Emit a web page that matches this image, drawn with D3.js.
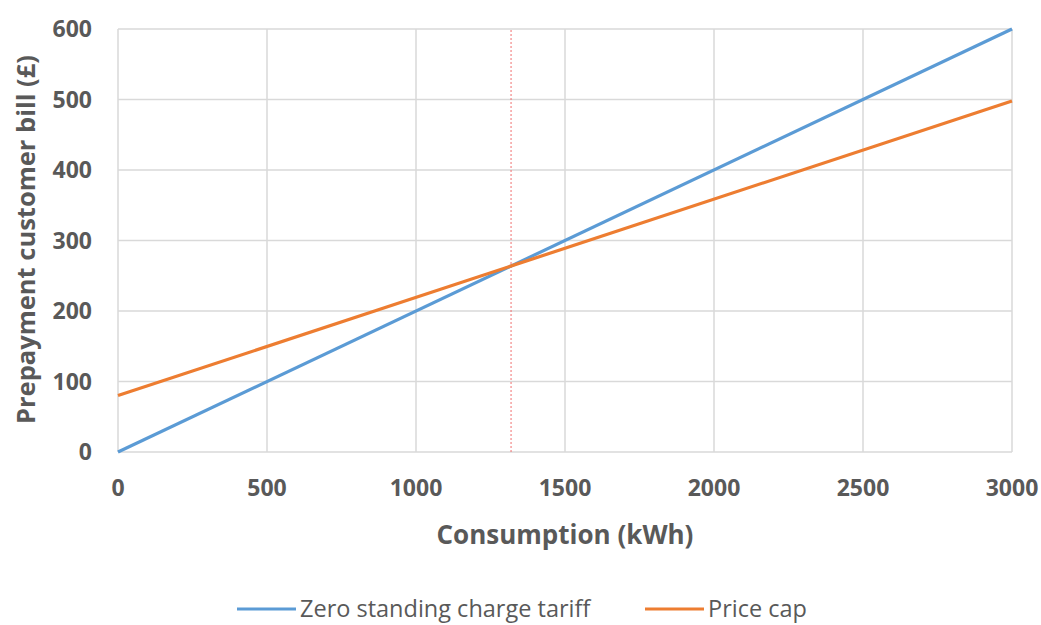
<!DOCTYPE html>
<html>
<head>
<meta charset="utf-8">
<script src="https://cdn.jsdelivr.net/npm/d3@7"></script>
<style>
  body { margin: 0; background: #fff; }
  text { font-family: "Open Sans", Lato, sans-serif; fill: #595959; }
</style>
</head>
<body>
<div id="chart"></div>
<script>
const consumption = [0, 3000];
const zeroStanding = [0, 600];
const priceCap = [80, 498];
const crossover = 1319;
const xTicks = [0, 500, 1000, 1500, 2000, 2500, 3000];
const yTicks = [0, 100, 200, 300, 400, 500, 600];

const width = 1041;
const height = 625;
const margin = { top: 29, right: 29, bottom: 173, left: 118 };

const svg = d3
  .select("#chart")
  .append("svg")
  .attr("width", width)
  .attr("height", height);

const x = d3.scaleLinear().domain([0, 3000]).range([margin.left, width - margin.right]);
const y = d3.scaleLinear().domain([0, 600]).range([height - margin.bottom, margin.top]);

// gridlines
svg.append("g")
  .selectAll("line")
  .data(yTicks)
  .join("line")
  .attr("x1", x(0)).attr("x2", x(3000))
  .attr("y1", (d) => y(d)).attr("y2", (d) => y(d))
  .attr("stroke", "#d9d9d9").attr("stroke-width", 1.5);

svg.append("g")
  .selectAll("line")
  .data(xTicks)
  .join("line")
  .attr("x1", (d) => x(d)).attr("x2", (d) => x(d))
  .attr("y1", y(0)).attr("y2", y(600))
  .attr("stroke", "#d9d9d9").attr("stroke-width", 1.5);

// tick labels
svg.append("g")
  .selectAll("text")
  .data(yTicks)
  .join("text")
  .attr("x", 92)
  .attr("y", (d) => y(d))
  .attr("dy", "0.36em")
  .attr("text-anchor", "end")
  .attr("font-size", 23)
  .attr("font-weight", "bold")
  .text((d) => d);

svg.append("g")
  .selectAll("text")
  .data(xTicks)
  .join("text")
  .attr("x", (d) => x(d))
  .attr("y", 488)
  .attr("dy", "0.36em")
  .attr("text-anchor", "middle")
  .attr("font-size", 23)
  .attr("font-weight", "bold")
  .text((d) => d);

// crossover marker
svg.append("line")
  .attr("x1", x(crossover)).attr("x2", x(crossover))
  .attr("y1", y(0)).attr("y2", y(600))
  .attr("stroke", "#f07070")
  .attr("stroke-width", 1)
  .attr("stroke-dasharray", "2,2");

const series = [
  { name: "Zero standing charge tariff", values: zeroStanding, color: "#5b9bd5" },
  { name: "Price cap", values: priceCap, color: "#ed7d31" },
];

const line = d3.line().x((d) => x(d[0])).y((d) => y(d[1]));

svg.append("g")
  .selectAll("path")
  .data(series)
  .join("path")
  .attr("d", (s) => line(consumption.map((c, i) => [c, s.values[i]])))
  .attr("fill", "none")
  .attr("stroke", (s) => s.color)
  .attr("stroke-width", 3.2);

// axis titles
svg.append("text")
  .attr("x", x(1500))
  .attr("y", 535)
  .attr("dy", "0.36em")
  .attr("text-anchor", "middle")
  .attr("font-size", 26)
  .attr("font-weight", "bold")
  .text("Consumption (kWh)");

svg.append("text")
  .attr("transform", `translate(26,${y(300) - 1}) rotate(-90)`)
  .attr("dy", "0.36em")
  .attr("text-anchor", "middle")
  .attr("font-size", 25.5)
  .attr("font-weight", "bold")
  .text("Prepayment customer bill (£)");

// legend
const legendX = [237, 645];
const legend = svg.append("g")
  .selectAll("g")
  .data(series)
  .join("g")
  .attr("transform", (d, i) => `translate(${legendX[i]},609)`);

legend.append("line")
  .attr("x1", 0).attr("x2", 59)
  .attr("stroke", (d) => d.color)
  .attr("stroke-width", 3.2);

legend.append("text")
  .attr("x", 63)
  .attr("dy", "0.34em")
  .attr("font-size", 23.5)
  .text((d) => d.name);
</script>
</body>
</html>
